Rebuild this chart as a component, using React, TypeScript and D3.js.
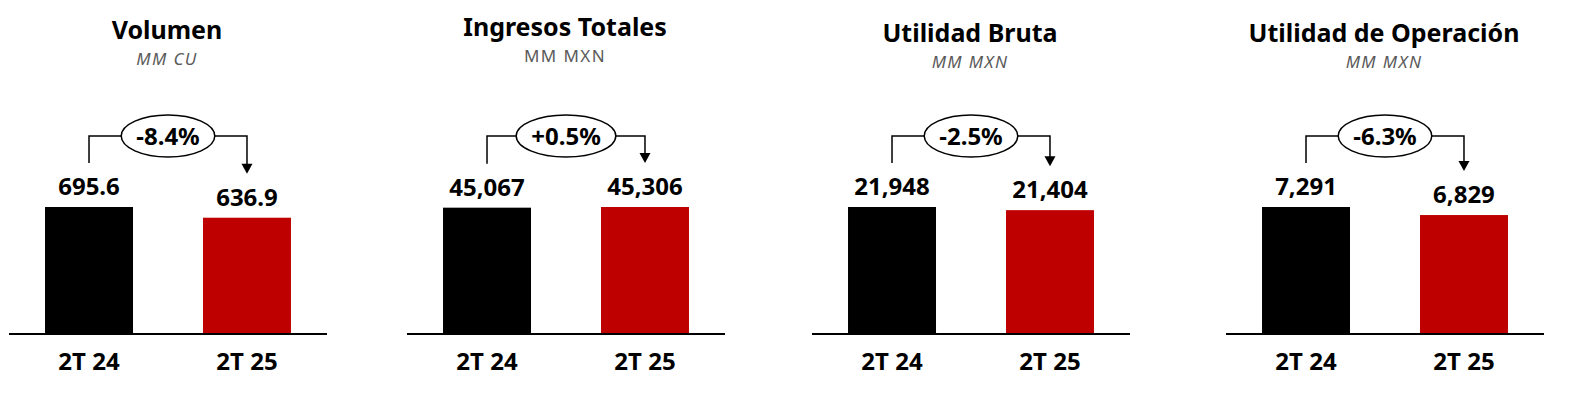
import React from "react";
import * as d3 from "d3";

const titles = ["Volumen", "Ingresos Totales", "Utilidad Bruta", "Utilidad de Operación"];
const subtitles = ["MM CU", "MM MXN", "MM MXN", "MM MXN"];
const categories = ["2T 24", "2T 25"];
const prevValues = [695.6, 45067, 21948, 7291];
const currValues = [636.9, 45306, 21404, 6829];
const valueLabels = [
  ["695.6", "636.9"],
  ["45,067", "45,306"],
  ["21,948", "21,404"],
  ["7,291", "6,829"],
];
const changeLabels = ["-8.4%", "+0.5%", "-2.5%", "-6.3%"];

// layout only
const panelX = [9, 407, 812, 1226];
const titleY = [39, 36, 42, 42];
const subItalic = [true, false, true, true];

const W = 1570;
const H = 398;
const axisW = 318;
const baseY = 334;
const topY = 207;
const font = "'Noto Sans', sans-serif";
const barColors = ["#000000", "#BE0000"];

const measure = (txt: string, f: string) => {
  const ctx = document.createElement("canvas").getContext("2d");
  if (!ctx) return txt.length * 13;
  ctx.font = f;
  return ctx.measureText(txt).width;
};

const Panel = ({ i }: { i: number }) => {
  const x = d3.scaleBand<string>().domain(categories).range([0, axisW]).paddingInner(0.443).paddingOuter(0.228);
  const vals = [prevValues[i], currValues[i]];
  const y = d3.scaleLinear().domain([0, d3.max(vals) as number]).range([baseY, topY]);
  const cx = categories.map((c) => (x(c) as number) + x.bandwidth() / 2);
  const mid = axisW / 2;
  const lineY = 136;
  const rx = measure(changeLabels[i], `bold 24px ${font}`) / 2 + 15;
  const ry = 21;
  const leg0 = y(vals[0]) - 44;
  const leg1 = y(vals[1]) - 44;
  return (
    <g transform={`translate(${panelX[i]},0)`}>
      <text x={mid - 1} y={titleY[i]} textAnchor="middle" fontFamily={font} fontWeight="bold" fontSize={25} fill="#000">
        {titles[i]}
      </text>
      <text
        x={mid - 1}
        y={titleY[i] + 26}
        textAnchor="middle"
        fontFamily={font}
        fontStyle={subItalic[i] ? "italic" : "normal"}
        fontSize={17}
        letterSpacing={1.4}
        fill="#5a5a5a"
      >
        {subtitles[i]}
      </text>
      {categories.map((c, j) => (
        <g key={c}>
          <rect x={x(c)} y={y(vals[j])} width={x.bandwidth()} height={baseY - y(vals[j])} fill={barColors[j]} />
          <text x={cx[j]} y={y(vals[j]) - 12} textAnchor="middle" fontFamily={font} fontWeight="bold" fontSize={24} fill="#000">
            {valueLabels[i][j]}
          </text>
          <text x={cx[j]} y={370} textAnchor="middle" fontFamily={font} fontWeight="bold" fontSize={24} fill="#000">
            {c}
          </text>
        </g>
      ))}
      <line x1={0} x2={axisW} y1={baseY} y2={baseY} stroke="#000" strokeWidth={2} />
      {/* bracket with arrow */}
      <path
        d={`M${cx[0]},${leg0}V${lineY}H${mid - rx}M${mid + rx},${lineY}H${cx[1]}V${leg1 - 9}`}
        fill="none"
        stroke="#000"
        strokeWidth={1.5}
      />
      <path d={`M${cx[1] - 5.5},${leg1 - 10}L${cx[1] + 5.5},${leg1 - 10}L${cx[1]},${leg1}Z`} fill="#000" />
      <ellipse cx={mid} cy={lineY} rx={rx} ry={ry} fill="#fff" stroke="#000" strokeWidth={1.5} />
      <text x={mid} y={lineY + 8.5} textAnchor="middle" fontFamily={font} fontWeight="bold" fontSize={24} fill="#000">
        {changeLabels[i]}
      </text>
    </g>
  );
};

export default function App() {
  return (
    <svg width={W} height={H} style={{ position: "absolute", left: 0, top: 0, background: "#fff" }}>
      {titles.map((_, i) => (
        <Panel key={i} i={i} />
      ))}
    </svg>
  );
}
